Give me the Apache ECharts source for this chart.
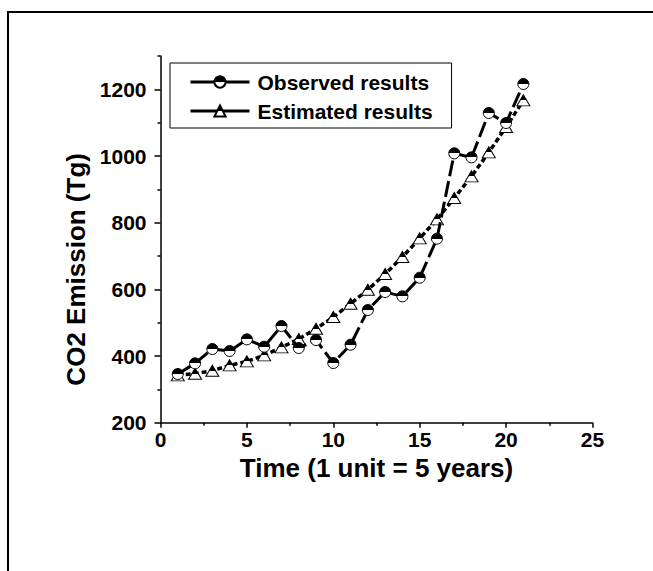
<!DOCTYPE html>
<html><head><meta charset="utf-8">
<script src="https://cdn.jsdelivr.net/npm/echarts@6/dist/echarts.min.js"></script>
<style>html,body{margin:0;padding:0;background:#fff}#c{width:653px;height:571px}</style>
</head><body><div id="c"></div>
<script>
const timeUnits = [1,2,3,4,5,6,7,8,9,10,11,12,13,14,15,16,17,18,19,20,21];
const observedValues = [346,378,421,415,450,428,490,424,448,379,434,538,592,579,635,752,1008,996,1129,1099,1216];
const estimatedValues = [342,347,356,372,384,402,426,451,482,517,557,599,646,697,753,810,874,939,1011,1087,1167];
const xTickLabels = [0,5,10,15,20,25];
const yTickLabels = [200,400,600,800,1000,1200];
const yMinorTicks = [300,500,700,900,1100,1300];
const seriesNames = ['Observed results','Estimated results'];
const xTitle = 'Time (1 unit = 5 years)';
const yTitle = 'CO2 Emission (Tg)';

const FONT = "'Liberation Sans', Arial, Helvetica, sans-serif";
const halfFill = () => new echarts.graphic.LinearGradient(0,0,0,1,[
  {offset:0,color:'#000'},{offset:0.5,color:'#000'},{offset:0.5,color:'#fff'},{offset:1,color:'#fff'}]);
const plain = v => String(v);

const chart = echarts.init(document.getElementById('c'), null, {renderer:'svg'});
chart.setOption({
  animation:false,
  backgroundColor:'#fff',
  grid:{left:160.5, top:56, right:60.5, bottom:148.3, containLabel:false},
  graphic:[{type:'polyline', shape:{points:[[8,571],[8,12],[653,12]]}, style:{stroke:'#000', lineWidth:2, fill:null}}],
  legend:{
    orient:'vertical', left:170, top:63,
    padding:[8,19,6,19],
    borderColor:'#000', borderWidth:1,
    itemWidth:59, itemHeight:14, itemGap:7,
    data:seriesNames,
    lineStyle:{type:'solid', width:3, color:'#000'},
    textStyle:{fontSize:21, fontWeight:'bold', color:'#000', fontFamily:FONT, lineHeight:22, padding:[0,0,0,3]}
  },
  xAxis:{
    type:'value', min:xTickLabels[0], max:xTickLabels[xTickLabels.length-1], interval:5,
    axisLine:{show:true, onZero:false, lineStyle:{color:'#000', width:1.5}},
    axisTick:{show:true, length:5, lineStyle:{color:'#000', width:1.5}},
    minorTick:{show:true, splitNumber:2, length:3, lineStyle:{color:'#000', width:1.5}},
    splitLine:{show:false},
    axisLabel:{fontSize:21, fontWeight:'bold', color:'#000', fontFamily:FONT, margin:6, formatter:plain},
    name:xTitle, nameLocation:'middle', nameGap:29,
    nameTextStyle:{fontSize:26, fontWeight:'bold', color:'#000', fontFamily:FONT}
  },
  yAxis:[{
    type:'value', min:200, max:1300, interval:100,
    axisLine:{show:true, onZero:false, lineStyle:{color:'#000', width:1.5}},
    axisTick:{show:true, length:3, customValues:yMinorTicks, lineStyle:{color:'#000', width:1.5}},
    axisLabel:{show:false},
    splitLine:{show:false}
  },{
    type:'value', min:200, max:1300, interval:100, position:'left',
    axisLine:{show:false},
    axisTick:{show:true, length:6, customValues:yTickLabels, lineStyle:{color:'#000', width:1.5}},
    axisLabel:{show:true, customValues:yTickLabels, fontSize:21, fontWeight:'bold', color:'#000', fontFamily:FONT, margin:14, formatter:plain},
    splitLine:{show:false},
    name:yTitle, nameLocation:'middle', nameGap:71,
    nameTextStyle:{fontSize:26, fontWeight:'bold', color:'#000', fontFamily:FONT, padding:[0,60,0,0]}
  }],
  series:[{
    name:seriesNames[0], type:'line', yAxisIndex:0,
    data:timeUnits.map((t,i)=>[t, observedValues[i]]),
    symbol:'circle', symbolSize:11,
    lineStyle:{color:'#000', width:3, type:[16,5]},
    itemStyle:{color:halfFill(), borderColor:'#000', borderWidth:1},
    z:3
  },{
    name:seriesNames[1], type:'line', yAxisIndex:0,
    data:timeUnits.map((t,i)=>[t, estimatedValues[i]]),
    symbol:'triangle', symbolSize:[13,11],
    lineStyle:{color:'#000', width:3.5, type:[5,3]},
    itemStyle:{color:halfFill(), borderColor:'#000', borderWidth:1},
    z:2
  }]
});
</script></body></html>
